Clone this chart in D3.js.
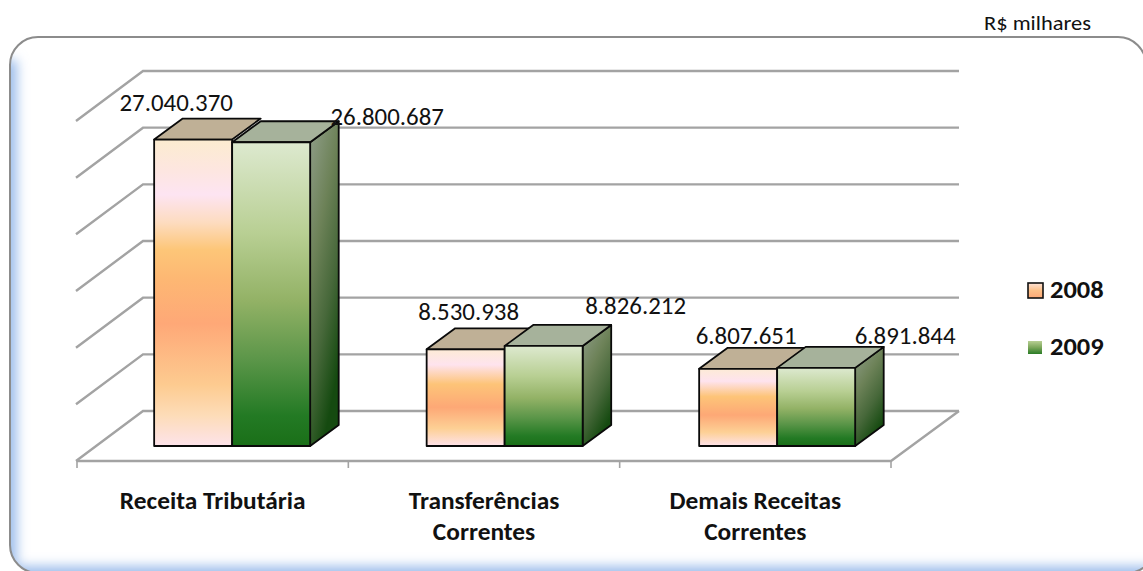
<!DOCTYPE html>
<html><head><meta charset="utf-8">
<script src="https://cdn.jsdelivr.net/npm/d3@7"></script>
<style>html,body{margin:0;padding:0;background:#fff}svg{display:block}text{font-family:Carlito,Lato,"Open Sans",sans-serif;fill:#111}</style>
</head><body><div id="c"></div>
<script>
const categories = [["Receita Tributária"], ["Transferências", "Correntes"], ["Demais Receitas", "Correntes"]];
const seriesNames = ["2008", "2009"];
const values2008 = [27040370, 8530938, 6807651];
const values2009 = [26800687, 8826212, 6891844];
const valueLabels2008 = ["27.040.370", "8.530.938", "6.807.651"];
const valueLabels2009 = ["26.800.687", "8.826.212", "6.891.844"];
const unitLabel = "R$ milhares";

const W = 1143, H = 571;
const svg = d3.select("#c").append("svg").attr("width", W).attr("height", H);
const defs = svg.append("defs");

const x = d3.scaleBand().domain(d3.range(categories.length)).range([77, 891]);
const xBars = d3.scaleBand().domain(d3.range(categories.length)).range([75.5, 893]);
const y = d3.scaleLinear().domain([0, 30000000]).range([461, 121]);
const depth = {dx: 68, dy: 50, front: 0.3, back: 0.72};
const px = (vx, z) => vx + z * depth.dx;
const py = (v, z) => y(v) - z * depth.dy;
const groupW = 156;
const sx = d3.scaleBand().domain(seriesNames).range([(xBars.bandwidth() - groupW) / 2, (xBars.bandwidth() + groupW) / 2]);

function grad(id, stops, x2 = 0, y2 = 1) {
  const g = defs.append("linearGradient").attr("id", id).attr("x1", 0).attr("y1", 0).attr("x2", x2).attr("y2", y2);
  stops.forEach(([o, c]) => g.append("stop").attr("offset", o).attr("stop-color", c));
}
grad("orangeTall", [[0,"#fcecd0"],[.1,"#fde6e0"],[.18,"#fde4f2"],[.27,"#fddcc0"],[.36,"#fdc678"],[.45,"#fdb873"],[.6,"#fea877"],[.8,"#fdcb90"],[.9,"#fddcb8"],[1,"#fde3ea"]]);
grad("orangeShort", [[0,"#fdebd6"],[.16,"#fee3ee"],[.36,"#fdc478"],[.6,"#fda876"],[.82,"#fdd095"],[1,"#fee2ea"]]);
grad("green", [[0,"#dde9cf"],[.3,"#b8cf93"],[.52,"#93b266"],[.72,"#5a9548"],[.9,"#237a24"],[1,"#1a6f18"]]);
grad("sideGreen", [[0,"#919f8b"],[.4,"#6d8258"],[.7,"#47683a"],[1,"#154a10"]], .45, 1);
grad("legendOrange", [[0,"#fde3d8"],[.5,"#fdc088"],[1,"#fda876"]]);
grad("legendGreen", [[0,"#b8cf93"],[.5,"#7ba65a"],[1,"#2a7c26"]]);
defs.append("filter").attr("id", "glow").attr("x", "-10%").attr("y", "-10%").attr("width", "120%").attr("height", "120%")
  .append("feGaussianBlur").attr("stdDeviation", 6);

const panelPath = "M38,37H1118A28,28 0 0 1 1146,65L1155,500V545A28,28 0 0 1 1127,573H38A28,28 0 0 1 10,545V65A28,28 0 0 1 38,37Z";
defs.append("clipPath").attr("id", "panelClip").append("path").attr("d", panelPath);

// panel
svg.append("path").attr("d", panelPath).attr("fill", "#fff");
svg.append("g").attr("clip-path", "url(#panelClip)").append("path")
  .attr("d", "M8,60V575H1160").attr("fill", "none").attr("stroke", "#9dbdeb").attr("stroke-width", 18).attr("filter", "url(#glow)");
svg.append("path").attr("d", panelPath).attr("fill", "none").attr("stroke", "#8c8c8c").attr("stroke-width", 2);

// walls and floor
const grid = svg.append("g").attr("fill", "none").attr("stroke", "#a3a3a3").attr("stroke-width", 2.4);
const x0 = x.range()[0], x1 = x.range()[1];
y.ticks(6).forEach(t => {
  grid.append("path").attr("d", d3.line()([[px(x0, 0) - 1, py(t, 0)], [px(x0, 1) - 2, py(t, 1)], [px(x1, 1), py(t, 1)]]));
});
grid.append("path").attr("d", d3.line()([[px(x0, 0), y(0)], [px(x1, 0), y(0)], [px(x1, 1), py(0, 1)]]));
x.domain().concat([categories.length]).forEach(i => {
  const tx = i < categories.length ? x(i) : x1;
  grid.append("line").attr("x1", tx).attr("x2", tx).attr("y1", y(0)).attr("y2", y(0) + 7).attr("stroke-width", 1.6);
});

// bars
const bars = svg.append("g").attr("stroke", "#0a0a0a").attr("stroke-width", 1.8).attr("stroke-linejoin", "round");
const poly = d3.line();
categories.forEach((c, i) => {
  seriesNames.forEach((s, k) => {
    const v = (k === 0 ? values2008 : values2009)[i];
    const a = xBars(i) + sx(s), b = a + sx.bandwidth();
    const f = depth.front, r = depth.back;
    const front = k === 0 ? (v > 15000000 ? "url(#orangeTall)" : "url(#orangeShort)") : "url(#green)";
    if (k === 1) bars.append("path").attr("fill", "url(#sideGreen)")
      .attr("d", poly([[px(b,f),py(v,f)],[px(b,r),py(v,r)],[px(b,r),py(0,r)],[px(b,f),py(0,f)]]) + "Z");
    bars.append("path").attr("fill", k === 0 ? "#bfb096" : "#a6b29b")
      .attr("d", poly([[px(a,f),py(v,f)],[px(a,r),py(v,r)],[px(b,r),py(v,r)],[px(b,f),py(v,f)]]) + "Z");
    bars.append("rect").attr("x", px(a,f)).attr("y", py(v,f)).attr("width", b - a).attr("height", py(0,f) - py(v,f)).attr("fill", front);
  });
});

// text drawn stretched horizontally, as the reference picture is
function stretched(tx, ty, str, size, sxf, anchor, weight) {
  svg.append("text").attr("transform", `translate(${tx},${ty}) scale(${sxf},1)`)
    .attr("text-anchor", anchor).attr("font-size", size).attr("font-weight", weight).text(str);
}

// value labels: hand-placed offsets from each bar's front-top centre, as in the source
const nudge2008 = [[-17,-29],[3,-29],[8,-25]];
const nudge2009 = [[116,-17],[92,-32],[89,-24]];
categories.forEach((c, i) => {
  seriesNames.forEach((s, k) => {
    const v = (k === 0 ? values2008 : values2009)[i];
    const n = (k === 0 ? nudge2008 : nudge2009)[i];
    const cx = px(xBars(i) + sx(s) + sx.bandwidth() / 2, depth.front);
    stretched(cx + n[0], py(v, depth.front) + n[1], (k === 0 ? valueLabels2008 : valueLabels2009)[i], 23.5, 1.06, "middle", 400);
  });
});

// category labels
categories.forEach((lines, i) => {
  lines.forEach((l, j) => {
    stretched(x(i) + x.bandwidth() / 2, 509 + j * 31, l, 23.5, 1.08, "middle", 700);
  });
});

// legend
const legendY = [298, 355];
seriesNames.forEach((s, k) => {
  if (k === 0) svg.append("rect").attr("x", 1028).attr("y", 283).attr("width", 15).attr("height", 15)
    .attr("fill", "url(#legendOrange)").attr("stroke", "#111").attr("stroke-width", 1.6);
  else svg.append("rect").attr("x", 1028).attr("y", 341).attr("width", 14).attr("height", 13).attr("fill", "url(#legendGreen)");
  stretched(1050, legendY[k], s, 25, 1.06, "start", 700);
});

stretched(984, 30, unitLabel, 21, 1.07, "start", 400);
</script></body></html>
